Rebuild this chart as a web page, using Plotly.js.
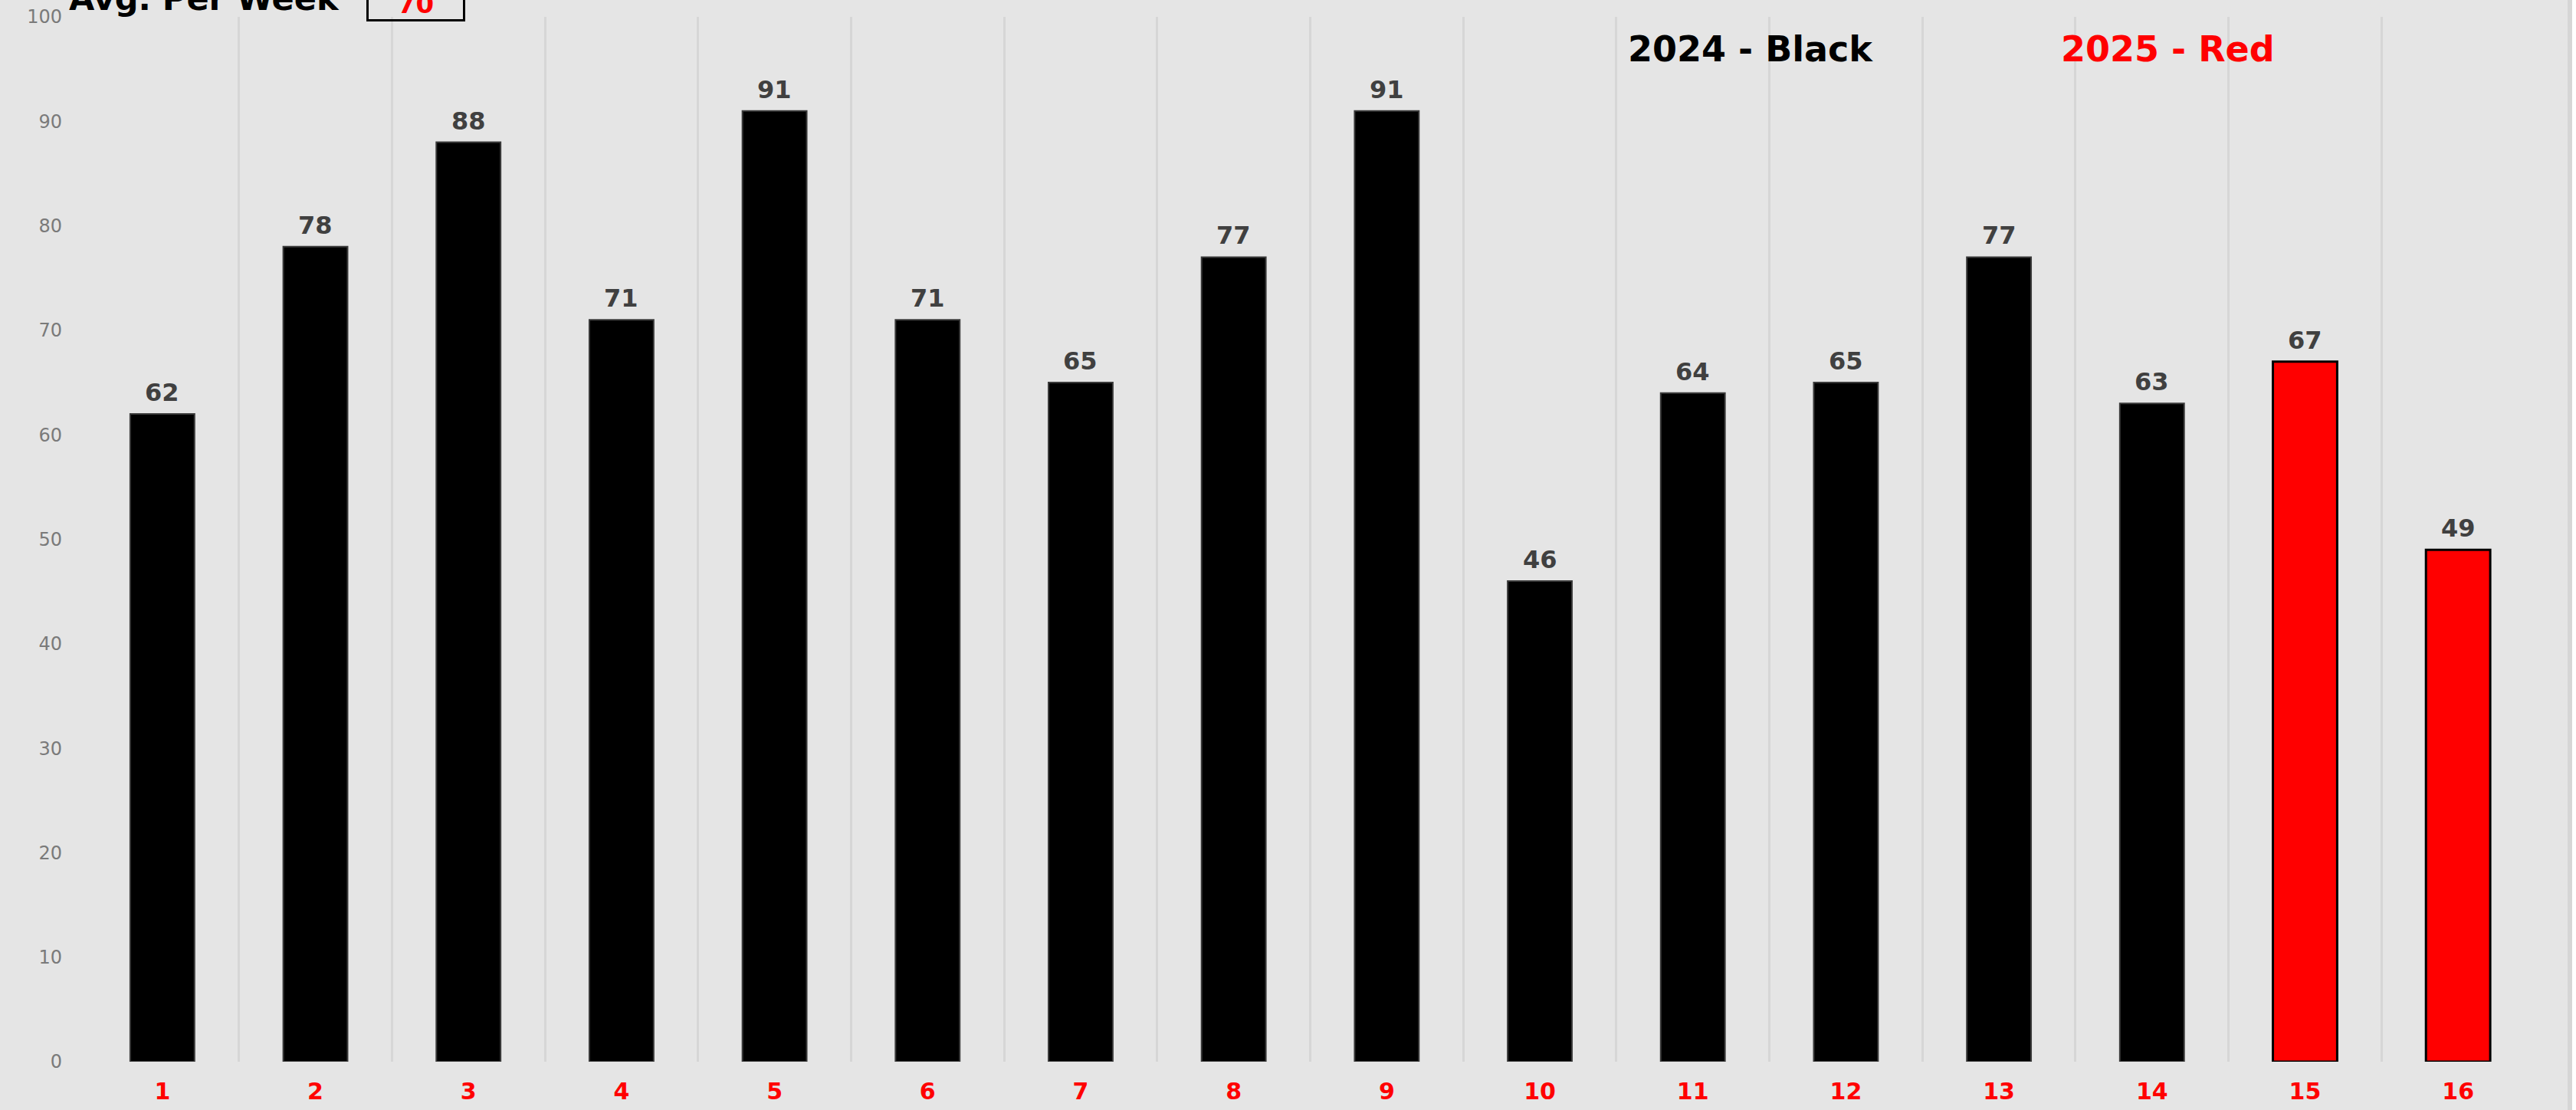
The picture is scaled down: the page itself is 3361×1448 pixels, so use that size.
<!DOCTYPE html>
<html>
<head>
<meta charset="utf-8">
<script src="https://cdn.plot.ly/plotly-3.0.1.min.js"></script>
<style>
  html, body { margin: 0; padding: 0; background: #ffffff; }
  #chart { width: 3361px; height: 1448px; }
</style>
</head>
<body>
<div id="chart"></div>
<script>
// ---- data ----
const weeks = ['1','2','3','4','5','6','7','8','9','10','11','12','13','14','15','16'];
const weeks2024 = ['1','2','3','4','5','6','7','8','9','10','11','12','13','14'];
const values2024 = [62, 78, 88, 71, 91, 71, 65, 77, 91, 46, 64, 65, 77, 63];
const weeks2025 = ['15','16'];
const values2025 = [67, 49];
const yTicks = [0, 10, 20, 30, 40, 50, 60, 70, 80, 90, 100];
const avgLabel = 'Avg. Per Week';
const avgValue = '70';
const legend2024 = '2024 - Black';
const legend2025 = '2025 - Red';

// ---- layout geometry (pixels) ----
const W = 3361, H = 1448;
const L = 112, R = 54, T = 22, B = 63;
const plotW = W - L - R, plotH = H - T - B;
const px = x => (x - L) / plotW;          // pixel x -> paper x
const py = y => (H - B - y) / plotH;      // pixel y -> paper y

const bg = '#e5e5e5';

const traces = [
  {
    type: 'bar', name: '2024', x: weeks2024, y: values2024,
    marker: { color: '#000000', line: { color: '#3a3a3a', width: 2 } },
    hoverinfo: 'x+y'
  },
  {
    type: 'bar', name: '2025', x: weeks2025, y: values2025,
    marker: { color: '#ff0000', line: { color: '#000000', width: 3 } },
    hoverinfo: 'x+y'
  }
];

const annotations = [];
function addLabels(xs, ys) {
  xs.forEach((x, i) => annotations.push({
    // category axis: annotations are placed by category index
    x: weeks.indexOf(x), y: ys[i], xref: 'x', yref: 'y',
    text: '<b>' + String(ys[i]) + '</b>', showarrow: false,
    xanchor: 'center', yanchor: 'bottom', yshift: 7,
    font: { family: 'DejaVu Sans', size: 32, color: '#404040' }
  }));
}
addLabels(weeks2024, values2024);
addLabels(weeks2025, values2025);

annotations.push({
  x: px(88), y: py(-2), xref: 'paper', yref: 'paper',
  text: '<b>' + avgLabel + '</b>', showarrow: false,
  xanchor: 'left', yanchor: 'middle',
  font: { family: 'DejaVu Sans', size: 43, color: '#000000' }
});
annotations.push({
  x: px(542.5), y: py(28), xref: 'paper', yref: 'paper',
  text: '<b>' + avgValue + '</b>', showarrow: false,
  xanchor: 'center', yanchor: 'bottom', valign: 'bottom',
  width: 123, height: 72, borderwidth: 3, bordercolor: '#000000', borderpad: 0,
  font: { family: 'DejaVu Sans', size: 34, color: '#ff0000' }
});
annotations.push({
  x: px(2284), y: py(64), xref: 'paper', yref: 'paper',
  text: '<b>' + legend2024 + '</b>', showarrow: false,
  xanchor: 'center', yanchor: 'middle',
  font: { family: 'DejaVu Sans', size: 46, color: '#000000' }
});
annotations.push({
  x: px(2828), y: py(64), xref: 'paper', yref: 'paper',
  text: '<b>' + legend2025 + '</b>', showarrow: false,
  xanchor: 'center', yanchor: 'middle',
  font: { family: 'DejaVu Sans', size: 46, color: '#ff0000' }
});

const layout = {
  width: W, height: H,
  margin: { l: L, r: R, t: T, b: B, pad: 0 },
  paper_bgcolor: bg, plot_bgcolor: bg,
  showlegend: false,
  barmode: 'overlay',
  bargap: 0.58,
  xaxis: {
    type: 'category', categoryorder: 'array', categoryarray: weeks,
    range: [-0.5, weeks.length - 0.5],
    tickson: 'boundaries', ticks: '',
    showgrid: true, gridcolor: '#d6d6d6', gridwidth: 3,
    zeroline: false, showline: false,
    ticklabelstandoff: 18,
    tickfont: { family: 'DejaVu Sans', size: 30, color: '#ff0000', weight: 'bold' },
    fixedrange: true
  },
  yaxis: {
    range: [0, 100], tickmode: 'array', tickvals: yTicks,
    ticktext: yTicks.map(String),
    showgrid: false, zeroline: false, showline: false, ticks: '',
    ticklabelstandoff: 30,
    tickfont: { family: 'DejaVu Sans', size: 24, color: '#7a7a7a' },
    fixedrange: true
  },
  annotations: annotations,
  shapes: [
    { type: 'rect', xref: 'paper', yref: 'paper', x0: px(3350), x1: px(3356), y0: py(H + 10), y1: py(-10),
      fillcolor: '#d6d6d6', line: { width: 0 }, layer: 'above' },
    { type: 'rect', xref: 'paper', yref: 'paper', x0: px(3356), x1: px(3370), y0: py(H + 10), y1: py(-10),
      fillcolor: '#ffffff', line: { width: 0 }, layer: 'above' }
  ]
};

Plotly.newPlot('chart', traces, layout, { displayModeBar: false, staticPlot: true });
</script>
</body>
</html>
